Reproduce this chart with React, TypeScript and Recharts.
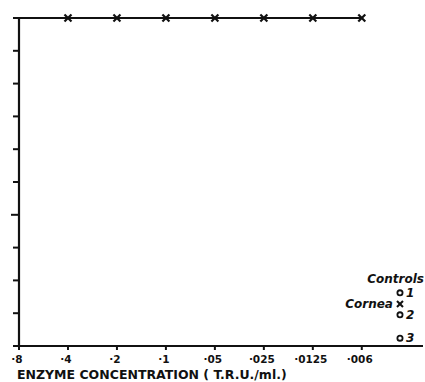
import React from 'react';
import { ComposedChart, Line, Scatter, XAxis, YAxis, LabelList } from 'recharts';

// enzyme concentration steps (T.R.U./ml.), one per x position
const concentrationLabels = ['·8', '·4', '·2', '·1', '·05', '·025', '·0125', '·006'];
const corneaValues = [100, 100, 100, 100, 100, 100, 100, 100];
const yTicks = [0, 10, 20, 30, 40, 50, 60, 70, 80, 90, 100];

// controls plotted at the right-hand end
const controlPosition = 7.78;
const controlValues = [16.2, 9.5, 2.4];
const controlNames = ['1', '2', '3'];
const corneaControlValue = 12.8;

const lineRows = corneaValues.map((v, i) => ({ x: i, v }));
const controlRows = controlValues.map((v, i) => ({ x: controlPosition, v, name: controlNames[i] }));
const corneaControlRows = [{ x: controlPosition, v: corneaControlValue, name: 'Cornea' }];

const FONT = '"DejaVu Sans", sans-serif';
const INK = '#111';

const Cross = (props: any) => {
  const { cx, cy, index } = props;
  if (cx == null || cy == null) return null;
  if (index === 0) return null;
  const s = 3.5;
  return (
    <g stroke={INK} strokeWidth={2.2}>
      <line x1={cx - s} y1={cy - s} x2={cx + s} y2={cy + s} />
      <line x1={cx - s} y1={cy + s} x2={cx + s} y2={cy - s} />
    </g>
  );
};

const SmallCross = (props: any) => {
  const { cx, cy } = props;
  const s = 3;
  return (
    <g stroke={INK} strokeWidth={2}>
      <line x1={cx - s} y1={cy - s} x2={cx + s} y2={cy + s} />
      <line x1={cx - s} y1={cy + s} x2={cx + s} y2={cy - s} />
    </g>
  );
};

const Ring = (props: any) => {
  const { cx, cy } = props;
  return <circle cx={cx} cy={cy} r={2.6} fill="#fff" stroke={INK} strokeWidth={1.8} />;
};

const XTick = (props: any) => {
  const { x, y, payload } = props;
  return (
    <g>
      <line x1={x} y1={y} x2={x} y2={y + 4} stroke={INK} strokeWidth={2} />
      <text x={x - 2} y={y + 17} textAnchor="middle" fontFamily={FONT} fontWeight="bold" fontSize={10.5} fill={INK}>
        {concentrationLabels[payload.value]}
      </text>
    </g>
  );
};

const YTick = (props: any) => {
  const { x, y, payload } = props;
  const len = payload.value === 40 ? 8 : 6;
  return <line x1={x} y1={y} x2={x - len} y2={y} stroke={INK} strokeWidth={2} />;
};

const ControlLabel = (props: any) => {
  const { x, y, width, height, value, index } = props;
  const cx = x + width / 2;
  const cy = y + height / 2;
  return (
    <g fontFamily={FONT} fontWeight="bold" fontStyle="italic" fill={INK}>
      <text x={cx + 6} y={cy + 4} fontSize={12}>{value}</text>
      {index === 0 && (
        <text x={cx + 24} y={cy - 10} fontSize={12} textAnchor="end">Controls</text>
      )}
    </g>
  );
};

const CorneaLabel = (props: any) => {
  const { x, y, width, height, value } = props;
  const cx = x + width / 2;
  const cy = y + height / 2;
  return (
    <text x={cx - 7} y={cy + 4} fontFamily={FONT} fontWeight="bold" fontStyle="italic" fontSize={12} textAnchor="end" fill={INK}>
      {value}
    </text>
  );
};

export default function App() {
  return (
    <div style={{ position: 'absolute', left: 0, top: 0, width: 425, height: 382, background: '#fff' }}>
      <ComposedChart width={425} height={382} margin={{ top: 18, right: 2, left: 1, bottom: 0 }}>
        <XAxis
          type="number"
          dataKey="x"
          domain={[0, 8.25]}
          ticks={[0, 1, 2, 3, 4, 5, 6, 7]}
          allowDataOverflow
          height={36}
          stroke={INK}
          strokeWidth={2.2}
          tickSize={0}
          tickMargin={0}
          tickLine={false}
          tick={<XTick />}
          label={{
            value: 'ENZYME CONCENTRATION  ( T.R.U./ml.)',
            position: 'insideBottomLeft',
            offset: 0,
            dx: -2,
            dy: -3,
            fontFamily: FONT,
            fontWeight: 'bold',
            fontSize: 12.5,
            fill: INK,
          }}
        />
        <YAxis
          type="number"
          domain={[0, 100]}
          ticks={yTicks}
          width={18}
          stroke={INK}
          strokeWidth={2.2}
          tickSize={0}
          tickMargin={0}
          tickLine={false}
          tick={<YTick />}
        />
        <Line
          data={lineRows}
          dataKey="v"
          stroke={INK}
          strokeWidth={2.2}
          dot={<Cross />}
          activeDot={false}
          isAnimationActive={false}
        />
        <Scatter data={controlRows} dataKey="v" shape={<Ring />} isAnimationActive={false}>
          <LabelList dataKey="name" content={<ControlLabel />} />
        </Scatter>
        <Scatter data={corneaControlRows} dataKey="v" shape={<SmallCross />} isAnimationActive={false}>
          <LabelList dataKey="name" content={<CorneaLabel />} />
        </Scatter>
      </ComposedChart>
    </div>
  );
}
